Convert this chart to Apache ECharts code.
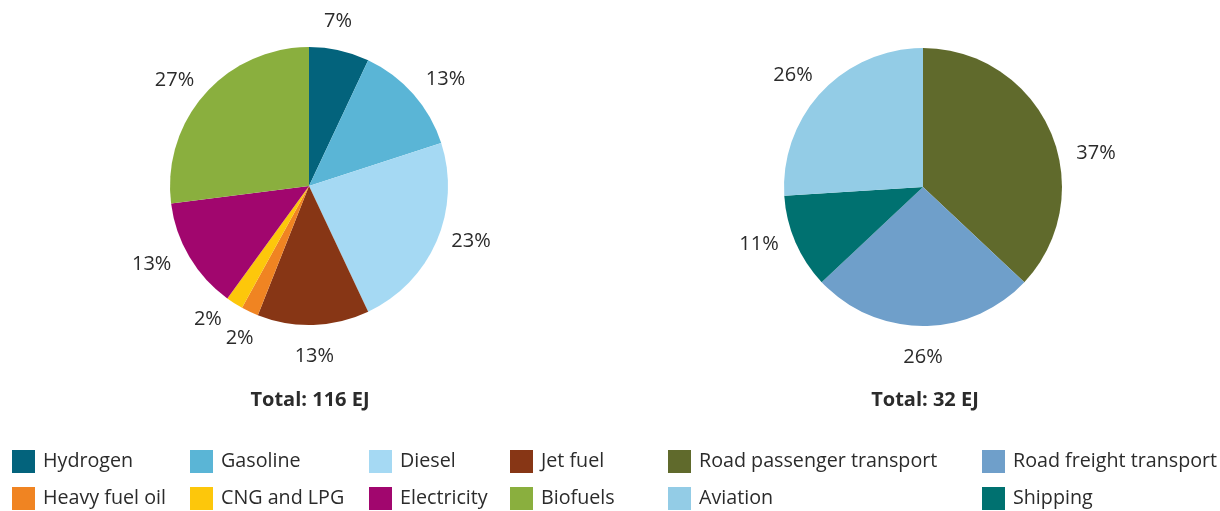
<!DOCTYPE html>
<html>
<head>
<meta charset="utf-8">
<script src="https://cdn.jsdelivr.net/npm/echarts@6/dist/echarts.min.js"></script>
<style>
html,body{margin:0;padding:0;background:#fff;}
#chart{width:1220px;height:511px;}
</style>
</head>
<body>
<div id="chart"></div>
<script>
// ---- data ----
const fuelNames = ['Hydrogen','Gasoline','Diesel','Jet fuel','Heavy fuel oil','CNG and LPG','Electricity','Biofuels'];
const fuelShares = [7, 13, 23, 13, 2, 2, 13, 27];
const modeNames = ['Road passenger transport','Road freight transport','Shipping','Aviation'];
const modeShares = [37, 26, 11, 26];
const totals = [116, 32];
const totalUnit = 'EJ';

// ---- styles ----
const fuelColors = ['#03637c','#5ab5d6','#a5d9f3','#873615','#f08422','#fdc70b','#a1066e','#8aaf3e'];
const modeColors = ['#606a2c','#6f9fca','#007170','#93cce6'];
const labelOffsets = {
  'Hydrogen': [-8, 1],
  'Gasoline': [9, 6],
  'Diesel': [6, -12],
  'Heavy fuel oil': [3, -2],
  'CNG and LPG': [-10, -10],
  'Electricity': [-11, -8],
  'Biofuels': [-7, 7],
  'Road passenger transport': [17, 34],
  'Shipping': [-8, -10],
  'Aviation': [-6, 5]
};
const textColor = '#2b2b2b';
const fontFamily = '"Open Sans", "Noto Sans", sans-serif';

const R = 139;
const centers = [[309, 186], [923, 187]];
const totalX = [310, 925];

function pieData(names, vals, colors) {
  return names.map((n, i) => ({ name: n, value: vals[i], itemStyle: { color: colors[i] } }));
}
function labelData(names, vals) {
  return names.map((n, i) => ({
    name: n, value: vals[i],
    label: labelOffsets[n] ? { offset: labelOffsets[n] } : undefined
  }));
}

function mainPie(names, vals, colors, center) {
  return {
    type: 'pie', center: center, radius: R, startAngle: 90, clockwise: true,
    label: { show: false }, labelLine: { show: false },
    itemStyle: { borderWidth: 0 },
    emphasis: { disabled: true }, animation: false,
    data: pieData(names, vals, colors)
  };
}
function labelPie(names, vals, center) {
  return {
    type: 'pie', center: center, radius: [R, R + 56], startAngle: 90, clockwise: true,
    silent: true, animation: false,
    itemStyle: { color: 'rgba(0,0,0,0)', borderWidth: 0 },
    emphasis: { disabled: true },
    labelLine: { show: false },
    label: {
      show: true, position: 'inside', formatter: '{c}%',
      color: textColor, fontFamily: fontFamily, fontSize: 20
    },
    data: labelData(names, vals)
  };
}

const legendCols = [
  { left: 12, data: [fuelNames[0], fuelNames[4]] },
  { left: 190, data: [fuelNames[1], fuelNames[5]] },
  { left: 369, data: [fuelNames[2], fuelNames[6]] },
  { left: 510, data: [fuelNames[3], fuelNames[7]] },
  { left: 668, data: [modeNames[0], modeNames[3]] },
  { left: 982, data: [modeNames[1], modeNames[2]] }
];

const option = {
  backgroundColor: '#ffffff',
  animation: false,
  legend: legendCols.map(c => ({
    orient: 'vertical', left: c.left, top: 450, data: c.data,
    icon: 'rect', itemWidth: 23, itemHeight: 23, itemGap: 14,
    selectedMode: false, padding: 0,
    textStyle: { color: textColor, fontFamily: fontFamily, fontSize: 19.7, padding: [0, 0, 0, 3] }
  })),
  graphic: totals.map((t, i) => ({
    type: 'text', x: totalX[i], y: 400,
    style: {
      text: 'Total: ' + t + ' ' + totalUnit,
      fill: textColor, font: 'bold 20px ' + fontFamily,
      textAlign: 'center', textVerticalAlign: 'middle'
    }
  })),
  series: [
    mainPie(fuelNames, fuelShares, fuelColors, centers[0]),
    mainPie(modeNames, modeShares, modeColors, centers[1]),
    labelPie(fuelNames, fuelShares, centers[0]),
    labelPie(modeNames, modeShares, centers[1])
  ]
};

const chart = echarts.init(document.getElementById('chart'), null, { renderer: 'canvas' });
chart.setOption(option);
</script>
</body>
</html>
